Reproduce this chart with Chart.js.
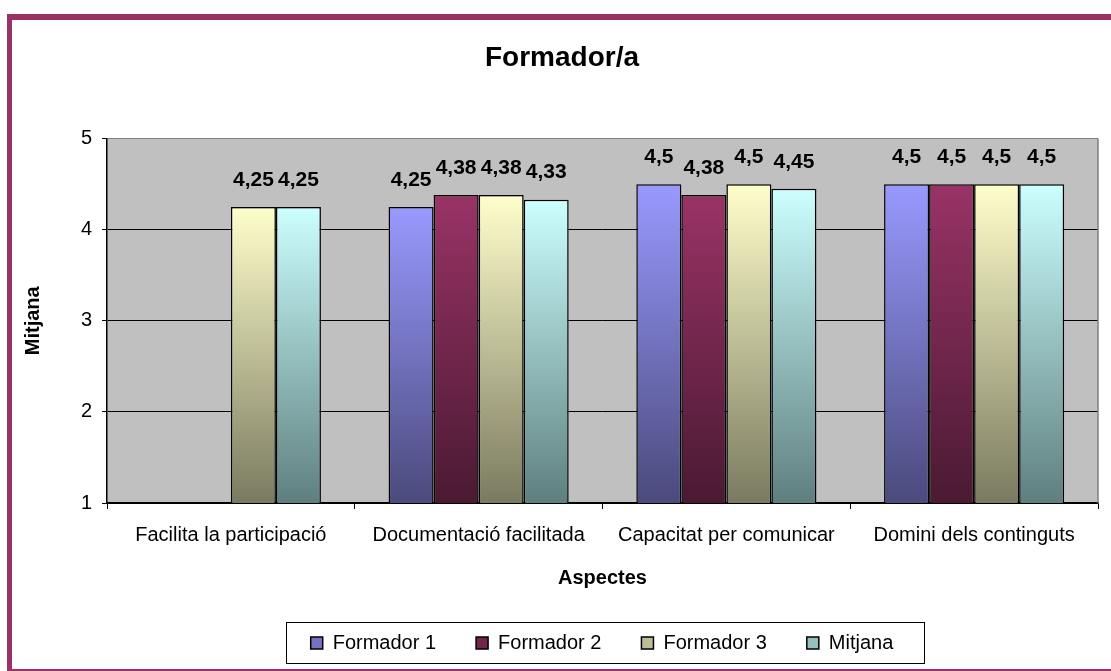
<!DOCTYPE html>
<html>
<head>
  <meta charset="utf-8">
  <title>Formador/a</title>
  <script src="https://cdn.jsdelivr.net/npm/chart.js@4.4.1/dist/chart.umd.min.js"></script>
  <style>
    body { margin: 0; background: white; }
    #wrap { position: relative; width: 1111px; height: 671px; }
    #frame {
      position: absolute; left: 7px; top: 14px; width: 1104px; height: 657px;
      border-top: 6px solid #993366; border-left: 5px solid #993366; border-bottom: 2px solid #993366;
      box-sizing: border-box; pointer-events: none;
    }
  </style>
</head>
<body>
  <div id="wrap">
    <canvas id="myChart" width="1111" height="671"></canvas>
    <div id="frame"></div>
  </div>

  <script>
    // data
    const aspectes = ['Facilita la participació', 'Documentació facilitada', 'Capacitat per comunicar', 'Domini dels continguts'];
    const formador1 = [null, 4.25, 4.5, 4.5];
    const formador2 = [null, 4.38, 4.38, 4.5];
    const formador3 = [4.25, 4.38, 4.5, 4.5];
    const mitjana = [4.25, 4.33, 4.45, 4.5];
    const yTicks = [1, 2, 3, 4, 5];

    const FONT = '"Liberation Sans", Arial, sans-serif';

    // bars fade from light at the top to dark at the base
    function barFill(top, bottom) {
      return function (ctx) {
        const chart = ctx.chart;
        const area = chart.chartArea;
        if (!area || ctx.raw == null) return top;
        const y = chart.scales.y.getPixelForValue(ctx.raw);
        const g = chart.ctx.createLinearGradient(0, y, 0, area.bottom);
        g.addColorStop(0, top);
        g.addColorStop(1, bottom);
        return g;
      };
    }

    const series = [
      { label: 'Formador 1', data: formador1, top: '#9999FF', bottom: '#4A4A7C', mid: '#7373BF' },
      { label: 'Formador 2', data: formador2, top: '#993366', bottom: '#4A1A32', mid: '#71264C' },
      { label: 'Formador 3', data: formador3, top: '#FFFFCC', bottom: '#7A7A60', mid: '#BDBD96' },
      { label: 'Mitjana', data: mitjana, top: '#CCFFFF', bottom: '#5F7F7F', mid: '#96BFBF' }
    ];

    const plotBack = {
      id: 'plotBack',
      afterLayout(chart) {
        // excel puts the legend and title a bit right of centre
        const l = chart.legend;
        l.left += 53;
        l.right += 53;
        const t = chart.titleBlock;
        t.left += 13;
        t.right += 13;
      },
      beforeDraw(chart) {
        const a = chart.chartArea, c = chart.ctx;
        c.save();
        c.fillStyle = 'white';
        c.fillRect(0, 0, chart.width, chart.height);
        c.fillStyle = '#C0C0C0';
        c.fillRect(a.left, a.top, a.right - a.left, a.bottom - a.top);
        c.restore();
      },
      afterDraw(chart) {
        const a = chart.chartArea, c = chart.ctx;
        c.save();
        c.strokeStyle = '#808080';
        c.lineWidth = 1.5;
        c.beginPath();
        c.moveTo(a.right, a.top);
        c.lineTo(a.right, a.bottom);
        c.stroke();
        // box round the legend
        const l = chart.legend;
        const pad = l.options.labels.padding;
        const rowW = l.lineWidths[0];
        const x0 = (l.left + l.right + pad - rowW) / 2 - 25;
        const x1 = x0 + 25 + rowW - pad + 30;
        const yc = l.top + pad + 9;
        c.strokeStyle = 'black';
        c.lineWidth = 1;
        c.strokeRect(Math.round(x0) + 0.5, Math.round(yc - 20) + 0.5, Math.round(x1 - x0), 41);
        c.restore();
      }
    };

    const valueLabels = {
      id: 'valueLabels',
      afterDatasetsDraw(chart) {
        const c = chart.ctx;
        c.save();
        c.font = 'bold 21px ' + FONT;
        c.fillStyle = 'black';
        c.textAlign = 'center';
        c.textBaseline = 'middle';
        chart.data.datasets.forEach((ds, i) => {
          chart.getDatasetMeta(i).data.forEach((bar, j) => {
            const v = ds.data[j];
            if (v == null) return;
            c.fillText(String(v).replace('.', ','), bar.x, bar.y - 27);
          });
        });
        c.restore();
      }
    };

    const chart = new Chart(document.getElementById('myChart'), {
      type: 'bar',
      data: {
        labels: aspectes,
        datasets: series.map(s => ({
          label: s.label,
          data: s.data,
          backgroundColor: barFill(s.top, s.bottom),
          borderColor: 'black',
          borderWidth: 1.5,
          categoryPercentage: 0.727,
          barPercentage: 1
        }))
      },
      options: {
        responsive: false,
        animation: false,
        events: [],
        layout: { padding: { left: 0, right: 13, top: 0, bottom: 8 } },
        scales: {
          x: {
            grid: { display: true, drawOnChartArea: false, drawTicks: true, tickLength: 6, color: 'black', lineWidth: 1 },
            border: { display: true, color: 'black', width: 1.5 },
            ticks: { color: 'black', font: { family: FONT, size: 20 }, padding: 14, maxRotation: 0, autoSkip: false },
            title: { display: true, text: 'Aspectes', color: 'black', font: { family: FONT, size: 20, weight: 'bold' }, padding: { top: 0, bottom: 3 } },
            afterFit(scale) { scale.height = 90; }
          },
          y: {
            min: 1,
            max: 5,
            afterBuildTicks(scale) { scale.ticks = yTicks.map(v => ({ value: v })); },
            grid: {
              color: ctx => (ctx.tick && ctx.tick.value === 5 ? '#808080' : 'black'),
              lineWidth: 1,
              tickLength: 5,
              tickColor: 'black'
            },
            border: { display: true, color: 'black', width: 1.5 },
            ticks: { color: 'black', font: { family: FONT, size: 20 }, padding: 10 },
            title: { display: true, text: 'Mitjana', color: 'black', font: { family: FONT, size: 20, weight: 'bold' }, padding: { top: 21, bottom: 0 } },
            afterFit(scale) { scale.width = 107; }
          }
        },
        plugins: {
          title: {
            display: true,
            text: 'Formador/a',
            color: 'black',
            font: { family: FONT, size: 28, weight: 'bold' },
            padding: { top: 41, bottom: 64 }
          },
          legend: {
            position: 'bottom',
            labels: {
              color: 'black',
              font: { family: FONT, size: 20 },
              boxWidth: 12,
              boxHeight: 12,
              padding: 40,
              generateLabels(chart) {
                return series.map((s, i) => ({
                  text: s.label,
                  fillStyle: s.mid,
                  strokeStyle: 'black',
                  lineWidth: 1.5,
                  datasetIndex: i
                }));
              }
            }
          },
          tooltip: { enabled: false }
        }
      },
      plugins: [plotBack, valueLabels]
    });
  </script>
</body>
</html>
